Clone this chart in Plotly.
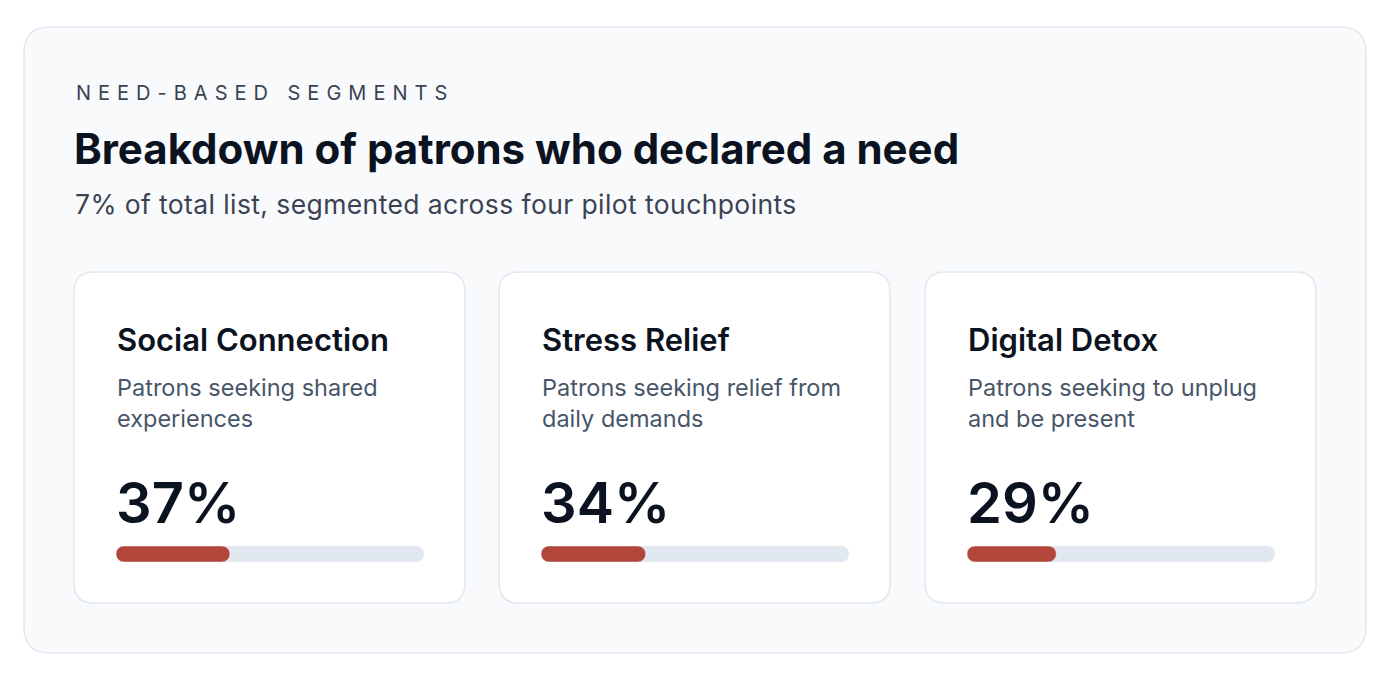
import plotly.graph_objects as go

# ---- data ----
eyebrow = "NEED-BASED SEGMENTS"
title = "Breakdown of patrons who declared a need"
subtitle = "7% of total list, segmented across four pilot touchpoints"
segments = ["Social Connection", "Stress Relief", "Digital Detox"]
descriptions = [
    "Patrons seeking shared<br>experiences",
    "Patrons seeking relief from<br>daily demands",
    "Patrons seeking to unplug<br>and be present",
]
shares = [37, 34, 29]
track_max = 100

# ---- layout helpers (pixels -> paper) ----
W, H = 1394, 678
OFF = 8  # page body margin
FONT = "Inter"
RED = "#b3453a"
TRACK = "#e2e8f0"
BORDER = "#e2e8f0"


def px(x):
    return (x - OFF) / W


def py(y):
    return 1 - (y - OFF) / H


def rrect(x0, y0, x1, y1, r):
    pts = [
        f"M {px(x0 + r)} {py(y0)}",
        f"L {px(x1 - r)} {py(y0)}",
        f"Q {px(x1)} {py(y0)} {px(x1)} {py(y0 + r)}",
        f"L {px(x1)} {py(y1 - r)}",
        f"Q {px(x1)} {py(y1)} {px(x1 - r)} {py(y1)}",
        f"L {px(x0 + r)} {py(y1)}",
        f"Q {px(x0)} {py(y1)} {px(x0)} {py(y1 - r)}",
        f"L {px(x0)} {py(y0 + r)}",
        f"Q {px(x0)} {py(y0)} {px(x0 + r)} {py(y0)}",
        "Z",
    ]
    return " ".join(pts)


fig = go.Figure()

shapes = [
    dict(type="path", xref="paper", yref="paper", path=rrect(24, 27, 1366, 653, 26),
         fillcolor="#f8fafc", line=dict(color=BORDER, width=1.5), layer="below"),
]
annotations = [
    dict(x=px(74), y=py(93), xref="paper", yref="paper", xanchor="left", yanchor="middle",
         text=f'<span style="letter-spacing:7px">{eyebrow}</span>', showarrow=False,
         font=dict(family=FONT, size=20, color="#3b4353")),
    dict(x=px(72), y=py(148), xref="paper", yref="paper", xanchor="left", yanchor="middle",
         text=title, showarrow=False,
         font=dict(family=FONT, size=42, color="#0b1220", weight=700)),
    dict(x=px(73), y=py(204), xref="paper", yref="paper", xanchor="left", yanchor="middle",
         text=f'<span style="letter-spacing:0.4px">{subtitle}</span>', showarrow=False,
         font=dict(family=FONT, size=26.5, color="#3b4353")),
]

card_x = [74, 499, 925]
card_w = 391
pad = 42
bar_top, bar_bot = 546, 562

layout_axes = {}
for i, (name, desc, v) in enumerate(zip(segments, descriptions, shares)):
    cx = card_x[i]
    shapes.append(dict(type="path", xref="paper", yref="paper",
                       path=rrect(cx, 272, cx + card_w, 603, 20),
                       fillcolor="white", line=dict(color=BORDER, width=1.5), layer="below"))
    tx = cx + pad
    annotations.append(dict(x=px(tx - 1), y=py(339), xref="paper", yref="paper",
                            xanchor="left", yanchor="middle", text=name, showarrow=False,
                            font=dict(family=FONT, size=31, color="#0b1220", weight=600)))
    for j, line in enumerate(desc.split("<br>")):
        annotations.append(dict(x=px(tx - 1), y=py(387 + 31 * j), xref="paper", yref="paper",
                                xanchor="left", yanchor="middle", text=line, showarrow=False,
                                font=dict(family=FONT, size=23.5, color="#475569")))
    annotations.append(dict(x=px(tx - 2), y=py(503), xref="paper", yref="paper",
                            xanchor="left", yanchor="middle", text=f"{v}%", showarrow=False,
                            font=dict(family=FONT, size=56, color="#0b1220", weight=600)))

    k = "" if i == 0 else str(i + 1)
    xa, ya = f"x{k}", f"y{k}"
    # track (two rounded halves)
    fig.add_trace(go.Bar(x=[track_max * 0.8], base=[track_max * 0.2], y=[0], orientation="h",
                         width=1, marker=dict(color=TRACK, cornerradius=8),
                         xaxis=xa, yaxis=ya, hoverinfo="skip", showlegend=False))
    fig.add_trace(go.Bar(x=[-track_max * 0.3], base=[track_max * 0.3], y=[0], orientation="h",
                         width=1, marker=dict(color=TRACK, cornerradius=8),
                         xaxis=xa, yaxis=ya, hoverinfo="skip", showlegend=False))
    # value fill
    fig.add_trace(go.Bar(x=[-v], base=[v], y=[0], orientation="h",
                         width=1, marker=dict(color=RED, cornerradius=8),
                         xaxis=xa, yaxis=ya, hoverinfo="skip", showlegend=False))
    ax = dict(domain=[px(tx), px(cx + card_w - 41)], range=[0, track_max], visible=False,
              fixedrange=True)
    ay = dict(domain=[py(bar_bot), py(bar_top)], range=[-0.5, 0.5], visible=False,
              fixedrange=True)
    if i == 0:
        layout_axes["xaxis"] = ax
        layout_axes["yaxis"] = ay
    else:
        ax["anchor"] = ya
        ay["anchor"] = xa
        layout_axes[f"xaxis{i + 1}"] = ax
        layout_axes[f"yaxis{i + 1}"] = ay

fig.update_layout(
    width=W, height=H,
    margin=dict(l=0, r=0, t=0, b=0),
    paper_bgcolor="white", plot_bgcolor="rgba(0,0,0,0)",
    barmode="overlay",
    shapes=shapes, annotations=annotations,
    showlegend=False,
    **layout_axes,
)

fig.write_html("out.html")
